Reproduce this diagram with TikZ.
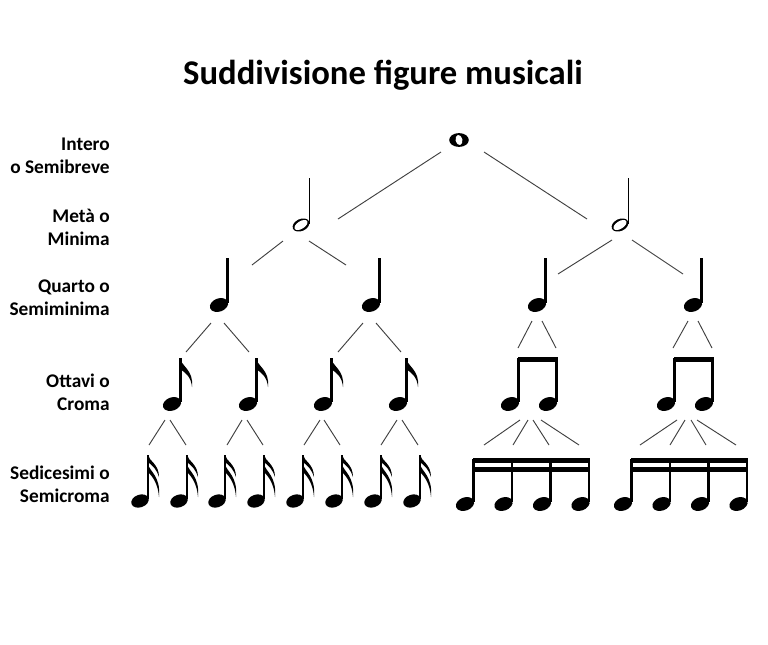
\documentclass[tikz,border=0pt]{standalone}
\usepackage{fontspec}
\setmainfont{Carlito}
\tikzset{
  notestem/.style={line width=1.8pt},
  link/.style={black!75,line width=0.7pt},
  rowlabel/.style={anchor=east,align=right,inner sep=0pt,font=\fontsize{14.5}{17.3}\selectfont\bfseries},
  head/.pic={\fill[rotate=20] (0,0) ellipse [x radius=9.4, y radius=6.6];},
  whole/.pic={
    \fill (0,0) ellipse [x radius=9.8, y radius=6.9];
    \fill[white,rotate=12] (0,0) ellipse [x radius=3.4, y radius=5.1];},
  half/.pic={
    \fill[rotate=25] (0,0) ellipse [x radius=8.8, y radius=6];
    \fill[white,rotate=32] (0,0) ellipse [x radius=7.3, y radius=3.8];
    \draw[line width=1.2pt] (8.4,-1) -- (8.4,-47);},
  quarter/.pic={\pic {head}; \draw[notestem] (8.6,-2) -- (8.6,-47);},
  eighth/.pic={\pic {head}; \draw[notestem] (8.6,-2) -- (8.6,-46);
    \fill (8,-46) .. controls (9,-38) and (22,-34) .. (20,-17)
      .. controls (19,-27) and (14,-31) .. (8,-35) -- cycle;},
  sixteenth/.pic={
    \fill[rotate=20] (0,0) ellipse [x radius=9, y radius=6.3];
    \draw[notestem] (8,-2) -- (8,-46);
    \fill (8,-46) .. controls (9,-40) and (19,-37) .. (19,-24)
      .. controls (17,-31) and (13,-35) .. (8,-39) -- cycle;
    \fill (8,-37) .. controls (9,-30) and (21,-25) .. (19,-4)
      .. controls (18,-17) and (13,-24) .. (8,-29) -- cycle;},
  eighthpair/.pic={
    \foreach \d in {0,38} {\pic at (\d,0) {head}; \draw[notestem] (\d+8.6,-2) -- (\d+8.6,-46);}
    \fill (7.7,-47) rectangle (47.5,-42);},
  sixteenthgroup/.pic={
    \foreach \d in {0,38.5,77,115.5} {\pic at (\d,0) {head}; \draw[notestem] (\d+8.6,-2) -- (\d+8.6,-45);}
    \fill (7.7,-46) rectangle (125,-41);
    \fill (7.7,-37) rectangle (125,-32);}
}
\begin{document}
\begin{tikzpicture}[x=0.75pt,y=-0.75pt]
\useasboundingbox (0,0) rectangle (768,644);

\node[anchor=base,inner sep=0pt,font=\fontsize{26}{30}\selectfont\bfseries] (title) at (383,84) {Suddivisione figure musicali};

\node[rowlabel] (l1) at (110,156) {Intero\\o Semibreve};
\node[rowlabel] (l2) at (110,227) {Metà o\\Minima};
\node[rowlabel] (l3) at (110,298) {Quarto o\\Semiminima};
\node[rowlabel] (l4) at (110,392) {Ottavi o\\Croma};
\node[rowlabel] (l5) at (110,484) {Sedicesimi o\\Semicroma};

\coordinate (W) at (459,140);
\coordinate (H1) at (301,225);
\coordinate (H2) at (620,225);
\foreach \x [count=\i] in {219,371,537,693} \coordinate (Q\i) at (\x,305);
\foreach \x [count=\i] in {172,248,323,398} \coordinate (E\i) at (\x,404);
\coordinate (P1) at (510,404);
\coordinate (P2) at (666,404);
\foreach \x [count=\i] in {140,179,217,256,295,334,373,412} \coordinate (S\i) at (\x,501);
\coordinate (G1) at (465,504);
\coordinate (G2) at (623,504);

\pic at (W) {whole};
\pic at (H1) {half};
\pic at (H2) {half};
\foreach \i in {1,...,4} {\pic at (Q\i) {quarter}; \pic at (E\i) {eighth};}
\pic at (P1) {eighthpair};
\pic at (P2) {eighthpair};
\foreach \i in {1,...,8} \pic at (S\i) {sixteenth};
\pic at (G1) {sixteenthgroup};
\pic at (G2) {sixteenthgroup};

\draw[link] ([shift={(-18,12)}]W) -- ([shift={(37,-6)}]H1);
\draw[link] ([shift={(25,12)}]W) -- ([shift={(-33,-6)}]H2);

\draw[link] ([shift={(-18,16)}]H1) -- ([shift={(33,-40)}]Q1);
\draw[link] ([shift={(8,16)}]H1) -- ([shift={(-25,-40)}]Q2);
\draw[link] ([shift={(-8,15)}]H2) -- ([shift={(21,-31)}]Q3);
\draw[link] ([shift={(12,15)}]H2) -- ([shift={(-10,-31)}]Q4);

\draw[link] ([shift={(-8,18)}]Q1) -- ([shift={(14,-52)}]E1);
\draw[link] ([shift={(5,18)}]Q1) -- ([shift={(1,-52)}]E2);
\draw[link] ([shift={(-8,18)}]Q2) -- ([shift={(15,-52)}]E3);
\draw[link] ([shift={(5,18)}]Q2) -- ([shift={(3,-52)}]E4);
\draw[link] ([shift={(-5,16)}]Q3) -- ([shift={(8,-56)}]P1);
\draw[link] ([shift={(5,16)}]Q3) -- ([shift={(46,-56)}]P1);
\draw[link] ([shift={(-5,16)}]Q4) -- ([shift={(7,-56)}]P2);
\draw[link] ([shift={(5,16)}]Q4) -- ([shift={(46,-56)}]P2);

\draw[link] ([shift={(-7,16)}]E1) -- ([shift={(9,-56)}]S1);
\draw[link] ([shift={(-2,16)}]E1) -- ([shift={(7,-56)}]S2);
\draw[link] ([shift={(-6,16)}]E2) -- ([shift={(10,-56)}]S3);
\draw[link] ([shift={(-1,16)}]E2) -- ([shift={(7,-56)}]S4);
\draw[link] ([shift={(-3,16)}]E3) -- ([shift={(9,-56)}]S5);
\draw[link] ([shift={(1,16)}]E3) -- ([shift={(6,-56)}]S6);
\draw[link] ([shift={(-1,16)}]E4) -- ([shift={(8,-56)}]S7);
\draw[link] ([shift={(4,16)}]E4) -- ([shift={(6,-56)}]S8);

\draw[link] ([shift={(10,16)}]P1) -- ([shift={(19,-59)}]G1);
\draw[link] ([shift={(18,16)}]P1) -- ([shift={(48,-59)}]G1);
\draw[link] ([shift={(23,16)}]P1) -- ([shift={(84,-59)}]G1);
\draw[link] ([shift={(31,16)}]P1) -- ([shift={(114,-59)}]G1);
\draw[link] ([shift={(11,16)}]P2) -- ([shift={(17,-59)}]G2);
\draw[link] ([shift={(19,16)}]P2) -- ([shift={(47,-59)}]G2);
\draw[link] ([shift={(25,16)}]P2) -- ([shift={(83,-59)}]G2);
\draw[link] ([shift={(31,16)}]P2) -- ([shift={(113,-59)}]G2);
\end{tikzpicture}
\end{document}
